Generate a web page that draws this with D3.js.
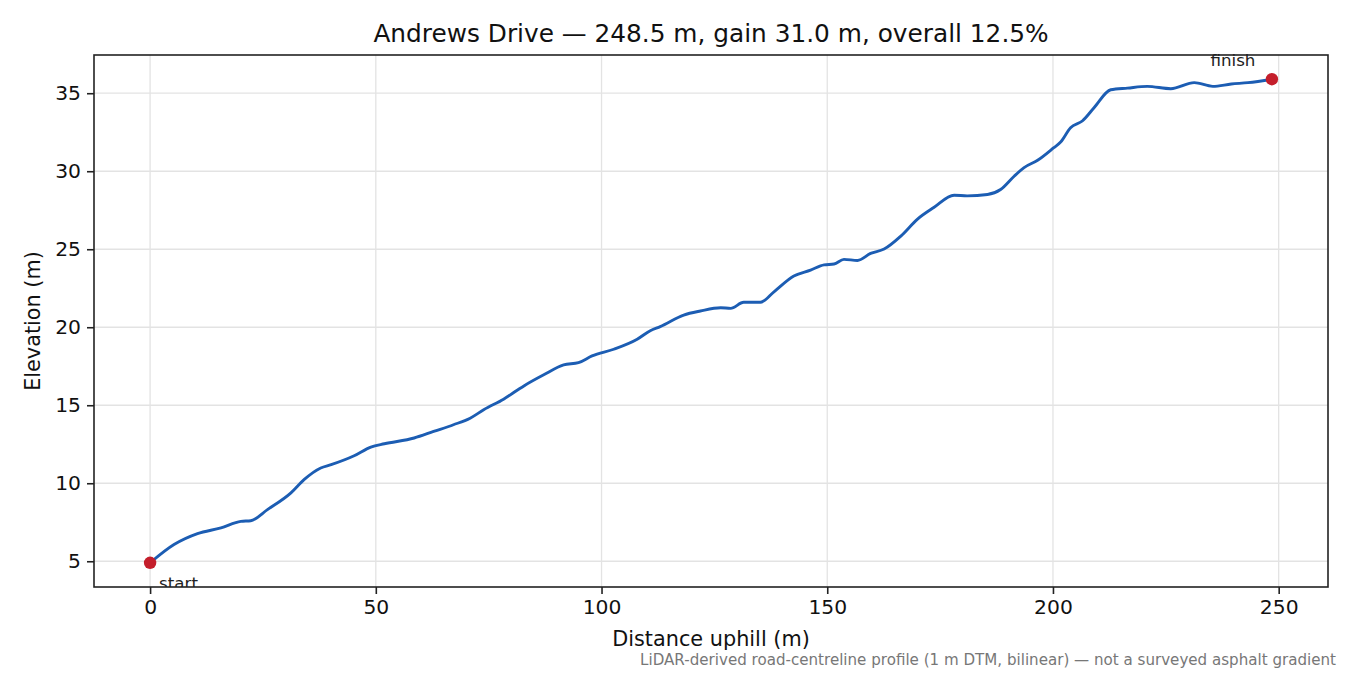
<!DOCTYPE html>
<html>
<head>
<meta charset="utf-8">
<script src="https://cdn.jsdelivr.net/npm/d3@7"></script>
<style>
  body { margin: 0; background: #fff; }
  svg { font-family: "DejaVu Sans", sans-serif; }
</style>
</head>
<body>
<svg id="chart" width="1350" height="675"></svg>
<script>
// profile: distance uphill (m) and elevation (m)
const distance = [0, 5.3, 10.5, 15.7, 20.1, 22.3, 26.0, 31.2, 34.1, 37.8, 40.1, 45.2, 48.9, 51.9,
  58.5, 62.8, 67.2, 70.9, 73.9, 78.3, 82.8, 87.2, 91.6, 94.9, 97.9, 102.7, 107.9, 110.8, 113.0,
  118.2, 121.9, 126.4, 128.6, 131.5, 135.2, 138.2, 142.6, 146.3, 149.3, 151.5, 153.7, 156.7,
  159.6, 162.6, 166.3, 170.0, 173.6, 178.1, 181.0, 185.5, 188.4, 191.4, 193.6, 196.6, 200.2,
  201.7, 203.9, 206.5, 209.1, 212.8, 216.5, 220.9, 226.1, 231.3, 235.4, 239.5, 243.2, 248.5];
const elevation = [4.9, 6.07, 6.77, 7.14, 7.56, 7.60, 8.31, 9.38, 10.23, 10.98, 11.19, 11.76, 12.32, 12.53,
  12.90, 13.32, 13.75, 14.17, 14.71, 15.39, 16.24, 16.95, 17.59, 17.73, 18.16, 18.59, 19.23, 19.78, 20.04,
  20.78, 21.04, 21.25, 21.21, 21.60, 21.60, 22.27, 23.28, 23.66, 24.0, 24.05, 24.35, 24.28,
  24.73, 25.01, 25.84, 26.93, 27.67, 28.46, 28.42, 28.51, 28.83, 29.68, 30.23, 30.70, 31.51,
  31.87, 32.79, 33.22, 34.07, 35.22, 35.33, 35.44, 35.29, 35.68, 35.44, 35.59, 35.68, 35.9];

const xTicks = [0, 50, 100, 150, 200, 250];
const yTicks = [5, 10, 15, 20, 25, 30, 35];

const titleText = 'Andrews Drive \u2014 248.5 m, gain 31.0 m, overall 12.5%';
const noteText = 'LiDAR-derived road-centreline profile (1 m DTM, bilinear) \u2014 not a surveyed asphalt gradient';

const svg = d3.select('#chart');
const m = { left: 94, right: 1328, top: 55, bottom: 587 };

const pts = distance.map((d, i) => [d, elevation[i]]);

// matplotlib style 5% padding on the data range
const xExt = d3.extent(distance), yExt = d3.extent(elevation);
const xPad = (xExt[1] - xExt[0]) * 0.05, yPad = (yExt[1] - yExt[0]) * 0.05;

const x = d3.scaleLinear().domain([xExt[0] - xPad, xExt[1] + xPad]).range([m.left, m.right]);
const y = d3.scaleLinear().domain([yExt[0] - yPad, yExt[1] + yPad]).range([m.bottom, m.top]);

svg.append('defs').append('clipPath').attr('id', 'plotclip')
  .append('rect')
  .attr('x', m.left).attr('y', m.top)
  .attr('width', m.right - m.left).attr('height', m.bottom - m.top);

// grid
const grid = svg.append('g');
grid.selectAll('.gx').data(xTicks).enter().append('line')
  .attr('x1', d => x(d)).attr('x2', d => x(d))
  .attr('y1', m.top).attr('y2', m.bottom)
  .attr('stroke', '#e3e3e3').attr('stroke-width', 1.3);
grid.selectAll('.gy').data(yTicks).enter().append('line')
  .attr('x1', m.left).attr('x2', m.right)
  .attr('y1', d => y(d)).attr('y2', d => y(d))
  .attr('stroke', '#e3e3e3').attr('stroke-width', 1.3);

// profile line
const line = d3.line().x(d => x(d[0])).y(d => y(d[1])).curve(d3.curveMonotoneX);
svg.append('path')
  .attr('d', line(pts))
  .attr('fill', 'none')
  .attr('stroke', '#1c5db3')
  .attr('stroke-width', 2.9)
  .attr('stroke-linejoin', 'round')
  .attr('clip-path', 'url(#plotclip)');

// start / finish markers
const ends = [pts[0], pts[pts.length - 1]];
svg.selectAll('.end').data(ends).enter().append('circle')
  .attr('cx', d => x(d[0])).attr('cy', d => y(d[1]))
  .attr('r', 6.2).attr('fill', '#c41e2b');

svg.append('text')
  .attr('x', x(ends[0][0]) + 9).attr('y', y(ends[0][1]) + 26)
  .attr('font-size', 16.7).attr('fill', '#222')
  .attr('clip-path', 'url(#plotclip)')
  .text('start');
svg.append('text')
  .attr('x', x(ends[1][0]) - 39).attr('y', y(ends[1][1]) - 13)
  .attr('text-anchor', 'middle')
  .attr('font-size', 16.7).attr('fill', '#222')
  .text('finish');

// axes
const xAxis = svg.append('g').attr('transform', `translate(0,${m.bottom})`)
  .call(d3.axisBottom(x).tickValues(xTicks).tickSize(7).tickPadding(6).tickFormat(d3.format('d')));
const yAxis = svg.append('g').attr('transform', `translate(${m.left},0)`)
  .call(d3.axisLeft(y).tickValues(yTicks).tickSize(7).tickPadding(6).tickFormat(d3.format('d')));
[xAxis, yAxis].forEach(a => {
  a.select('.domain').remove();
  a.selectAll('.tick line').attr('stroke', '#222').attr('stroke-width', 1.6);
  a.selectAll('.tick text').attr('font-size', 20.3).attr('fill', '#111')
    .attr('font-family', '"DejaVu Sans", sans-serif');
});

// frame
svg.append('rect')
  .attr('x', m.left).attr('y', m.top)
  .attr('width', m.right - m.left).attr('height', m.bottom - m.top)
  .attr('fill', 'none').attr('stroke', '#222').attr('stroke-width', 1.6);

// labels
svg.append('text')
  .attr('x', (m.left + m.right) / 2).attr('y', 42)
  .attr('text-anchor', 'middle').attr('font-size', 24.8).attr('fill', '#111')
  .text(titleText);
svg.append('text')
  .attr('x', (m.left + m.right) / 2).attr('y', 646)
  .attr('text-anchor', 'middle').attr('font-size', 20.8).attr('fill', '#111')
  .text('Distance uphill (m)');
svg.append('text')
  .attr('transform', `translate(40,${(m.top + m.bottom) / 2}) rotate(-90)`)
  .attr('text-anchor', 'middle').attr('font-size', 20.8).attr('fill', '#111')
  .text('Elevation (m)');
svg.append('text')
  .attr('x', 1336).attr('y', 665)
  .attr('text-anchor', 'end').attr('font-size', 15.1).attr('fill', '#777')
  .text(noteText);
</script>
</body>
</html>
